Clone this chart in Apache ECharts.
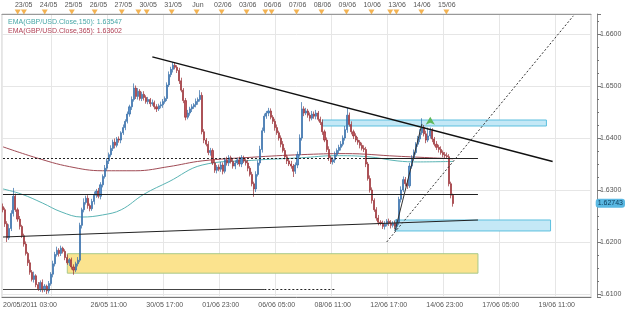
<!DOCTYPE html>
<html>
<head>
<meta charset="utf-8">
<script src="https://cdn.jsdelivr.net/npm/echarts@6/dist/echarts.min.js"></script>
<style>
  html, body { margin: 0; padding: 0; background: #fff; }
  #chart { width: 625px; height: 314px; }
</style>
</head>
<body>
<div id="chart"></div>
<script>
// GBP/USD 2h candles, 20/05/2011 03:00 -> 15/06/2011
// each bar opens at the previous close; wicks given in pips beyond the body
const firstOpen = 1.6268;
const closes = [
  1.6262, 1.6235, 1.6208, 1.6226, 1.6255, 1.6288, 1.6262, 1.6244, 1.6230, 1.6212,
  1.6196, 1.6178, 1.6160, 1.6142, 1.6128, 1.6135, 1.6118, 1.6110, 1.6122, 1.6108,
  1.6115, 1.6106, 1.6120, 1.6138, 1.6158, 1.6176, 1.6184, 1.6178, 1.6188, 1.6182,
  1.6170, 1.6160, 1.6166, 1.6152, 1.6146, 1.6158, 1.6165, 1.6232, 1.6262, 1.6276,
  1.6284, 1.6270, 1.6264, 1.6278, 1.6290, 1.6298, 1.6288, 1.6310, 1.6326, 1.6342,
  1.6356, 1.6368, 1.6380, 1.6392, 1.6386, 1.6398, 1.6396, 1.6410, 1.6420, 1.6432,
  1.6446, 1.6460, 1.6474, 1.6496, 1.6480, 1.6490, 1.6476, 1.6484, 1.6478, 1.6470,
  1.6474, 1.6466, 1.6468, 1.6460, 1.6456, 1.6462, 1.6464, 1.6470, 1.6476, 1.6502,
  1.6522, 1.6532, 1.6540, 1.6536, 1.6530, 1.6510, 1.6492, 1.6472, 1.6440, 1.6448,
  1.6456, 1.6460, 1.6464, 1.6470, 1.6474, 1.6482, 1.6412, 1.6396, 1.6388, 1.6372,
  1.6376, 1.6352, 1.6338, 1.6344, 1.6340, 1.6348, 1.6336, 1.6358, 1.6352, 1.6362,
  1.6355, 1.6346, 1.6352, 1.6358, 1.6350, 1.6362, 1.6356, 1.6352, 1.6342, 1.6330,
  1.6312, 1.6302, 1.6330, 1.6352, 1.6378, 1.6414, 1.6442, 1.6448, 1.6452, 1.6440,
  1.6432, 1.6420, 1.6410, 1.6400, 1.6388, 1.6376, 1.6364, 1.6356, 1.6350, 1.6346,
  1.6336, 1.6348, 1.6368, 1.6400, 1.6456, 1.6448, 1.6452, 1.6444, 1.6438, 1.6446,
  1.6442, 1.6448, 1.6436, 1.6430, 1.6412, 1.6396, 1.6378, 1.6362, 1.6354, 1.6358,
  1.6368, 1.6376, 1.6382, 1.6388, 1.6400, 1.6416, 1.6444, 1.6426, 1.6412, 1.6404,
  1.6396, 1.6392, 1.6386, 1.6380, 1.6378, 1.6350, 1.6322, 1.6300, 1.6280, 1.6262,
  1.6246, 1.6238, 1.6236, 1.6230, 1.6234, 1.6240, 1.6236, 1.6232, 1.6236, 1.6230,
  1.6238, 1.6282, 1.6300, 1.6320, 1.6312, 1.6308, 1.6346, 1.6362, 1.6372, 1.6388,
  1.6398, 1.6410, 1.6420, 1.6408, 1.6396, 1.6404, 1.6414, 1.6398, 1.6388, 1.6382,
  1.6378, 1.6372, 1.6368, 1.6366, 1.6364, 1.6312, 1.6290, 1.6274
];
const wickUp = [
  6, 4, 5, 8, 6, 16, 5, 4, 6, 3,
  4, 5, 3, 6, 4, 8, 3, 5, 4, 6,
  4, 3, 5, 4, 6, 5, 7, 4, 5, 3,
  4, 6, 3, 4, 5, 4, 6, 5, 4, 8,
  5, 6, 4, 5, 7, 4, 6, 5, 4, 6,
  5, 4, 6, 5, 7, 4, 5, 3, 6, 4,
  5, 4, 6, 9, 5, 6, 4, 5, 6, 4,
  5, 3, 6, 4, 5, 4, 6, 5, 4, 5,
  6, 5, 6, 5, 4, 5, 6, 4, 5, 6,
  4, 5, 3, 6, 4, 10, 6, 5, 4, 6,
  5, 4, 6, 4, 5, 6, 5, 4, 6, 5,
  4, 6, 5, 4, 6, 5, 4, 5, 6, 4,
  5, 4, 6, 5, 7, 6, 5, 4, 6, 5,
  4, 5, 6, 4, 5, 6, 5, 4, 5, 6,
  4, 5, 6, 7, 13, 5, 6, 4, 5, 6,
  5, 6, 4, 5, 6, 4, 5, 6, 4, 5,
  6, 4, 5, 6, 5, 7, 14, 5, 6, 4,
  5, 6, 4, 5, 6, 5, 4, 6, 5, 4,
  5, 6, 4, 5, 6, 4, 5, 6, 4, 5,
  6, 5, 7, 6, 5, 8, 6, 5, 6, 4,
  6, 7, 18, 5, 6, 16, 6, 5, 4, 6,
  5, 6, 4, 5, 6, 5, 4, 3
];
const wickDown = [
  5, 6, 8, 4, 5, 6, 4, 5, 6, 4,
  5, 4, 6, 5, 4, 6, 5, 4, 6, 5,
  4, 6, 5, 4, 6, 5, 4, 6, 5, 4,
  5, 4, 6, 5, 9, 4, 5, 4, 6, 5,
  4, 6, 5, 4, 6, 5, 4, 6, 5, 4,
  5, 6, 4, 5, 6, 4, 5, 6, 4, 5,
  4, 5, 6, 4, 5, 6, 4, 5, 6, 4,
  5, 6, 4, 5, 6, 4, 5, 6, 4, 5,
  4, 5, 6, 4, 5, 6, 4, 5, 6, 4,
  5, 6, 4, 5, 6, 4, 5, 6, 4, 5,
  6, 4, 5, 6, 4, 5, 6, 4, 5, 6,
  4, 5, 6, 4, 5, 6, 4, 5, 6, 4,
  5, 15, 6, 4, 5, 6, 4, 5, 6, 4,
  5, 6, 4, 5, 6, 4, 5, 6, 4, 5,
  11, 5, 6, 4, 5, 6, 4, 5, 6, 4,
  5, 6, 4, 5, 6, 4, 5, 6, 4, 5,
  6, 4, 5, 6, 4, 5, 6, 4, 5, 6,
  4, 5, 6, 4, 5, 6, 4, 5, 6, 4,
  5, 6, 4, 5, 6, 4, 5, 6, 4, 5,
  7, 5, 6, 4, 5, 6, 4, 5, 6, 4,
  5, 6, 4, 5, 6, 4, 5, 6, 4, 5,
  6, 4, 5, 6, 4, 5, 6, 6
];
const lastQuote = 1.62743;

// EMA curves at a few bars: [bar, value]
const ema150Pts = [
  [0, 1.6302], [9, 1.6292], [19, 1.6275], [28, 1.6258], [38, 1.6248], [48, 1.6252],
  [57, 1.6262], [68, 1.6292], [80, 1.6316], [96, 1.6348], [120, 1.6357], [144, 1.6362],
  [160, 1.6366], [176, 1.6364], [190, 1.6356], [200, 1.6354], [217, 1.6355]
];
const ema365Pts = [
  [0, 1.6383], [16, 1.6362], [32, 1.6345], [48, 1.6337], [64, 1.6337], [80, 1.6345],
  [96, 1.6356], [120, 1.6363], [144, 1.6368], [165, 1.6370], [190, 1.6365], [217, 1.6360]
];
const ema150Last = "1.63547";
const ema365Last = "1.63602";

// axes
const slotCount = 284; // bar slots incl. empty future area
const dayLabels = ["23/05", "24/05", "25/05", "26/05", "27/05", "30/05", "31/05", "Jun", "02/06",
  "03/06", "06/06", "07/06", "08/06", "09/06", "10/06", "13/06", "14/06", "15/06"];
const dayFirstBar = 10, barsPerDay = 12;
const timeLabels = ["20/05/2011 03:00", "26/05 11:00", "30/05 17:00", "01/06 23:00", "06/06 05:00",
  "08/06 11:00", "12/06 17:00", "14/06 23:00", "17/06 05:00", "19/06 11:00"];
const timeFirstTick = 24, timeStep = 27;
const eventMarks = [8, 11, 21, 34, 45, 58, 66, 70, 82, 94, 106, 118, 127, 130, 142, 154, 166, 178, 187, 190, 202, 214];

// build
const slots = Array.from({ length: slotCount }, (_, i) => String(i));
const candles = closes.map((c, i) => {
  const o = i === 0 ? firstOpen : closes[i - 1];
  const hi = Math.max(o, c) + wickUp[i] / 10000;
  const lo = Math.min(o, c) - wickDown[i] / 10000;
  return [o, c, +lo.toFixed(5), +hi.toFixed(5)];
});

const isTimeTick = (i) => i >= timeFirstTick && (i - timeFirstTick) % timeStep === 0;
const timeLabelAt = (i) => {
  if (i === 0) return timeLabels[0];
  const k = (i - timeFirstTick) / timeStep; // k=0 is hidden behind the first label
  return k >= 1 && Number.isInteger(k) ? timeLabels[k] || "" : "";
};
const dayLabelAt = (i) => {
  const k = (i - dayFirstBar) / barsPerDay;
  return Number.isInteger(k) && k >= 0 ? dayLabels[k] || "" : "";
};

const L = -0.5, R = slotCount - 0.5; // left/right edges in bar units
const FONT = "Liberation Sans, Arial, sans-serif";

// drawings on the chart, in [bar, price]
function seg(x0, y0, x1, y1, color, width, type) {
  return [
    { coord: [x0, y0], lineStyle: { color: color, width: width, type: type } },
    { coord: [x1, y1] },
  ];
}
const drawings = [
  seg(L, 1.64029, R, 1.64029, "#d6caa0", 1, [4, 2, 1, 2]), // short entry
  seg(L, 1.63833, R, 1.63833, "#e49a9a", 1, [3, 3]), // stop
  seg(L, 1.6361, 175, 1.6361, "#222", 1, [2, 2]),
  seg(175, 1.6361, 228.7, 1.6361, "#222", 1, "solid"),
  seg(L, 1.6292, 228.7, 1.6292, "#222", 1, "solid"),
  seg(228.7, 1.6292, R, 1.6292, "#222", 1, [2, 2]),
  seg(L, 1.62096, 228.7, 1.62423, "#222", 1.2, "solid"),
  seg(228.7, 1.62423, R, 1.6248, "#222", 1, [2, 2]),
  seg(L, 1.61096, 125.9, 1.61096, "#444", 1, "solid"),
  seg(125.9, 1.61096, 159.5, 1.61096, "#222", 1, [2, 2]),
  seg(159.5, 1.6112, R, 1.6112, "#222", 1, [2, 2]),
  seg(71.6, 1.6556, 265.2, 1.6355, "#111", 1.5, "solid"), // falling trendline
  seg(265.2, 1.6355, R, 1.6336, "#222", 1, [2, 2]),
  seg(180.6, 1.6094, 189.3, 1.6221, "#333", 1, [2, 2]),
  seg(189.3, 1.6221, 202.3, 1.6427, "#333", 1, "solid"),
  seg(184.5, 1.62, 274.8, 1.6635, "#333", 1, [2, 2]),
];

function tag(x, y, text, bg, fg) {
  return {
    coord: [x, y], symbol: "rect", symbolSize: 1, itemStyle: { opacity: 0 },
    label: {
      show: true, position: "inside", formatter: text, fontSize: 7, fontFamily: FONT,
      color: fg, backgroundColor: bg, padding: [1, 3, 1, 3],
    },
  };
}

const myChart = echarts.init(document.getElementById("chart"), null, { renderer: "canvas" });
const option = {
  animation: false,
  backgroundColor: "#fff",
  title: [
    { text: "EMA(GBP/USD.Close,150): " + ema150Last, left: 3, top: 14,
      textStyle: { fontSize: 7, fontWeight: "normal", color: "#46a6a6", fontFamily: FONT } },
    { text: "EMA(GBP/USD.Close,365): " + ema365Last, left: 3, top: 23,
      textStyle: { fontSize: 7, fontWeight: "normal", color: "#b04055", fontFamily: FONT } },
  ],
  grid: [
    { left: 0, right: 34, top: 14, bottom: 17, show: true, borderColor: "#cfcfcf", borderWidth: 1, containLabel: false },
    { left: 0, right: 34, top: 10, height: 4, containLabel: false },
  ],
  xAxis: [
    { // bottom: labels + major ticks + vertical grid
      type: "category", data: slots, gridIndex: 0, position: "bottom", boundaryGap: true,
      axisLine: { lineStyle: { color: "#777" } },
      axisTick: { alignWithLabel: true, length: 5, lineStyle: { color: "#777" }, interval: (i) => isTimeTick(i) },
      axisLabel: {
        interval: (i) => i === 0 || (isTimeTick(i) && i > timeFirstTick),
        formatter: (v, i) => timeLabelAt(i), fontSize: 7, color: "#555", fontFamily: FONT,
        margin: 5, alignMinLabel: "left", showMinLabel: true,
      },
      splitLine: { show: true, interval: (i) => isTimeTick(i), lineStyle: { color: "#e6e6e6" } },
    },
    { // bottom minor ticks
      type: "category", data: slots, gridIndex: 0, position: "bottom",
      axisLine: { show: false },
      axisTick: { alignWithLabel: true, length: 2, lineStyle: { color: "#777" }, interval: (i) => (i - timeFirstTick) % 3 === 0 },
      axisLabel: { show: false }, splitLine: { show: false },
    },
    { // top: day labels
      type: "category", data: slots, gridIndex: 0, position: "top",
      axisLine: { lineStyle: { color: "#999" } },
      axisTick: { alignWithLabel: true, length: 3, lineStyle: { color: "#777" }, interval: (i) => i % 2 === 0 },
      axisLabel: {
        interval: (i) => dayLabelAt(i) !== "", formatter: (v, i) => dayLabelAt(i),
        fontSize: 7, color: "#555", fontFamily: FONT, margin: 5,
      },
      splitLine: { show: false },
    },
    { type: "category", data: slots, gridIndex: 1, show: false },
  ],
  yAxis: [
    {
      type: "value", gridIndex: 0, position: "right", offset: 6, scale: true,
      min: 1.60942, max: 1.66385, splitNumber: 5,
      axisLine: { show: true, lineStyle: { color: "#888" } },
      axisTick: { show: true, length: 4, lineStyle: { color: "#777" } },
      minorTick: { show: true, splitNumber: 4, length: 2, lineStyle: { color: "#777" } },
      axisLabel: {
        formatter: (v) => v.toFixed(4), fontSize: 7, color: "#555", fontFamily: FONT, margin: 3,
        showMinLabel: false, showMaxLabel: false,
      },
      splitLine: { show: true, lineStyle: { color: "#e6e6e6" } },
      // last quote flag on the price axis
      axisPointer: {
        show: true, value: lastQuote, status: "show", type: "none", triggerTooltip: false,
        label: {
          show: true, formatter: () => String(lastQuote), fontSize: 7, fontFamily: FONT,
          color: "#0b3a5a", backgroundColor: "#5ab8e2", padding: [1, 2, 1, 2], margin: 2,
        },
      },
    },
    { type: "value", gridIndex: 1, show: false, min: 0, max: 1 },
  ],
  series: [
    {
      name: "GBP/USD", type: "candlestick", xAxisIndex: 0, yAxisIndex: 0,
      data: candles, barWidth: 1.6,
      itemStyle: {
        color: "#5a92cc", color0: "#c0545a", borderColor: "#2f69a5", borderColor0: "#962c32", borderWidth: 0.7,
      },
      markArea: {
        silent: true,
        data: [
          [{ coord: [31.2, 1.61775], itemStyle: { color: "#fbe38e", borderColor: "#a8c98a", borderWidth: 1 } }, { coord: [228.7, 1.6140] }],
          [{ coord: [154.2, 1.64346], itemStyle: { color: "#c4e8f6", borderColor: "#5cbfdf", borderWidth: 1 } }, { coord: [262.4, 1.64231] }],
          [{ coord: [189.3, 1.62423], itemStyle: { color: "#c4e8f6", borderColor: "#5cbfdf", borderWidth: 1 } }, { coord: [264.3, 1.62212] }],
        ],
      },
      markLine: {
        silent: true, symbol: ["none", "none"], label: { show: false },
        data: drawings,
      },
      markPoint: {
        silent: true,
        data: [
          tag(20.6, 1.64298, "Short(14/06, 127)", "#d7ecc6", "#6f9a50"),
          tag(12, 1.6400, "Stop(Net)(8)", "#e05555", "#fff"),
          tag(223.4, 1.64163, "PBT ACb", "#dcdcdc", "#333"),
          tag(223.9, 1.6250, "dumping this now", "#dcdcdc", "#333"),
          tag(236.4, 1.62365, "d", "#d8d8d8", "#333"),
          { coord: [206.1, 1.6441], symbol: "arrow", symbolSize: [7, 8], itemStyle: { color: "#5cb85c" }, label: { show: false } },
        ],
      },
      z: 3,
    },
    {
      name: "EMA150", type: "line", data: ema150Pts, smooth: 0.4, showSymbol: false,
      lineStyle: { color: "#5ab4b4", width: 1 }, z: 2,
    },
    {
      name: "EMA365", type: "line", data: ema365Pts, smooth: 0.4, showSymbol: false,
      lineStyle: { color: "#a04b55", width: 1 }, z: 2,
    },
    {
      name: "events", type: "scatter", xAxisIndex: 3, yAxisIndex: 1,
      data: eventMarks.map((b) => [b, 0.5]),
      symbol: "triangle", symbolRotate: 180, symbolSize: [6, 5],
      itemStyle: { color: "#f0a028" }, z: 4,
    },
  ],
};
myChart.setOption(option);
</script>
</body>
</html>
